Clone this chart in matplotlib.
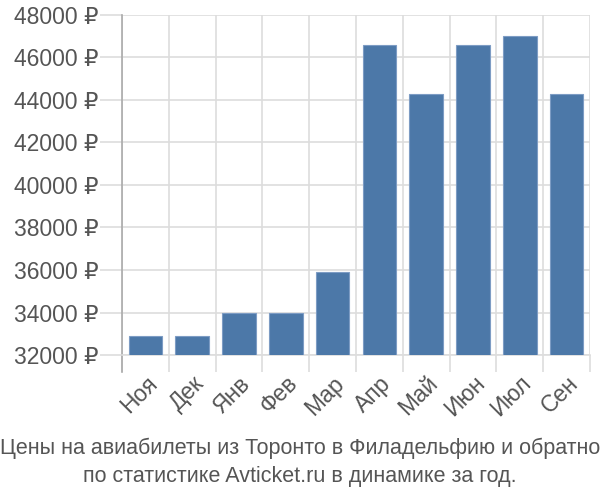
import numpy as np
import matplotlib
matplotlib.use('Agg')
import matplotlib.pyplot as plt

plt.rcParams['font.family'] = ['Liberation Sans', 'DejaVu Sans']

months = ['Ноя', 'Дек', 'Янв', 'Фев', 'Мар', 'Апр', 'Май', 'Июн', 'Июл', 'Сен']
prices = [32900, 32900, 34000, 34000, 35900, 46600, 44300, 46600, 47000, 44300]
yticks = np.arange(32000, 48001, 2000)
title = 'Цены на авиабилеты из Торонто в Филадельфию и обратно\nпо статистике Avticket.ru в динамике за год.'

fig = plt.figure(figsize=(6, 5), dpi=100)
ax = fig.add_axes([0.2033, 0.29, 0.78, 0.68])

x = np.arange(len(months))
ax.bar(x, prices, width=0.72, color='#4c78a8', edgecolor='#7d9cc4', linewidth=0.8, zorder=3)

ax.set_xlim(-0.5, len(months) - 0.5)
ax.set_ylim(32000, 48000)

# gridlines at category boundaries
ax.set_xticks(np.arange(-0.5, len(months)), minor=True)
ax.set_xticks(x)
ax.set_xticklabels(months, rotation=45, ha='right', rotation_mode='anchor')
ax.tick_params(axis='x', which='major', length=0, pad=12, labelsize=16.5, labelcolor='#555555')
ax.tick_params(axis='x', which='minor', length=12, width=1.2, color='#dddddd')
ax.grid(True, which='minor', axis='x', color='#dddddd', linewidth=1.2, zorder=0)

ax.set_yticks(yticks)
ax.set_yticklabels(['%d ₽' % v for v in yticks])
ax.tick_params(axis='y', length=16, width=1.2, color='#dddddd', labelsize=16.5, labelcolor='#555555', pad=1)
ax.grid(True, which='major', axis='y', color='#dddddd', linewidth=1.2, zorder=0)

for s in ['top', 'right']:
    ax.spines[s].set_visible(False)
ax.spines['bottom'].set_color('#dddddd')
ax.spines['bottom'].set_linewidth(1.2)
ax.spines['left'].set_color('#aaaaaa')
ax.spines['left'].set_linewidth(1.2)
ax.spines['left'].set_bounds(31200, 48000)

fig.text(0.5, 0.075, title, ha='center', va='center', fontsize=15.5, color='#555555', linespacing=1.4)

fig.savefig('out.png', dpi=100)
